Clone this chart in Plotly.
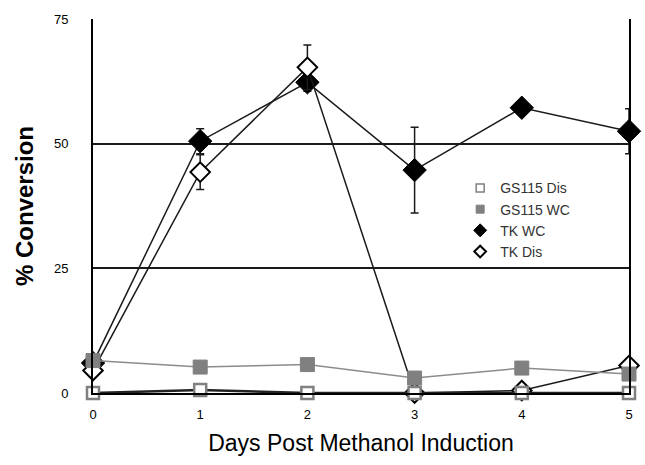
import plotly.graph_objects as go

days = [0, 1, 2, 3, 4, 5]
gs115_dis = [0.0, 0.6, 0.0, 0.0, 0.0, 0.0]
gs115_dis_err = [0.3, 0.3, 0.0, 0.3, 0.3, 0.3]
gs115_wc = [6.5, 5.2, 5.7, 3.0, 5.0, 3.8]
gs115_wc_err = [0.6, 0.3, 0.3, 0.3, 0.4, 0.3]
tk_wc = [6.0, 50.5, 62.3, 44.7, 57.2, 52.5]
tk_wc_err = [0.5, 2.5, 1.8, 8.6, 0.5, 4.5]
tk_dis = [4.5, 44.3, 65.3, 0.0, 0.5, 5.5]
tk_dis_err = [1.0, 3.5, 4.5, 0.8, 0.8, 0.8]

series_names = ["GS115 Dis", "GS115 WC", "TK WC", "TK Dis"]

fig = go.Figure()

# TK series drawn first (below the GS115 squares)
fig.add_trace(go.Scatter(
    x=days, y=tk_wc, name="TK WC", mode="lines+markers", showlegend=False,
    line=dict(color="#1a1a1a", width=1.5),
    marker=dict(symbol="diamond", size=18, color="black",
                line=dict(color="black", width=1)),
    error_y=dict(type="data", array=tk_wc_err, color="#1a1a1a", thickness=1.5, width=4),
    cliponaxis=False))

fig.add_trace(go.Scatter(
    x=days, y=tk_dis, name="TK Dis", mode="lines+markers", showlegend=False,
    line=dict(color="#1a1a1a", width=1.5),
    marker=dict(symbol="diamond", size=15, color="white",
                line=dict(color="black", width=2)),
    error_y=dict(type="data", array=tk_dis_err, color="#1a1a1a", thickness=1.5, width=4),
    cliponaxis=False))

fig.add_trace(go.Scatter(
    x=days, y=gs115_dis, name="GS115 Dis", mode="lines+markers", showlegend=False,
    line=dict(color="#222222", width=2.5),
    marker=dict(symbol="square", size=12, color="white",
                line=dict(color="#808080", width=2.5)),
    error_y=dict(type="data", array=gs115_dis_err, color="black", thickness=1.5, width=3),
    cliponaxis=False))

fig.add_trace(go.Scatter(
    x=days, y=gs115_wc, name="GS115 WC", mode="lines+markers", showlegend=False,
    line=dict(color="#8c8c8c", width=1.5),
    marker=dict(symbol="square", size=14, color="#808080",
                line=dict(color="#808080", width=1)),
    error_y=dict(type="data", array=gs115_wc_err, color="white", thickness=1.5, width=3),
    cliponaxis=False))

# legend entries (compact symbols)
legend_styles = [
    dict(symbol="square", size=8, color="white", line=dict(color="#808080", width=1.5)),
    dict(symbol="square", size=8, color="#808080", line=dict(color="#808080", width=1)),
    dict(symbol="diamond", size=10, color="black", line=dict(color="black", width=1)),
    dict(symbol="diamond", size=9, color="white", line=dict(color="black", width=2)),
]
for nm, st in zip(series_names, legend_styles):
    fig.add_trace(go.Scatter(x=[None], y=[None], name=nm, mode="markers", marker=st))

fig.update_layout(
    width=645, height=465,
    margin=dict(l=93, r=13, t=18, b=72),
    paper_bgcolor="white", plot_bgcolor="white",
    font=dict(family="Liberation Sans, Arial, sans-serif", color="black", size=13),
    showlegend=True,
    legend=dict(x=0.685, y=0.59, xanchor="left", yanchor="top",
                bgcolor="rgba(0,0,0,0)", font=dict(size=14, color="#333"),
                itemwidth=30, tracegroupgap=0),
)

fig.update_xaxes(
    range=[0, 5], tickvals=days, ticktext=[str(d) for d in days],
    showgrid=False, zeroline=False,
    showline=True, linecolor="black", linewidth=2, mirror=False,
    ticks="", ticklabelstandoff=8, tickfont=dict(size=13),
    title=dict(text="Days Post Methanol Induction", font=dict(size=23), standoff=14),
)

fig.update_yaxes(
    range=[0, 75], tickvals=[0, 25, 50, 75],
    showgrid=True, gridcolor="#1a1a1a", gridwidth=1.5,
    zeroline=False, showline=True, linecolor="black", linewidth=2, mirror=True,
    ticks="", ticklabelstandoff=20, tickfont=dict(size=13),
    title=dict(text="% Conversion", font=dict(size=24, family="Liberation Sans, Arial, sans-serif", weight="bold"), standoff=14),
)

fig.write_html("out.html")
